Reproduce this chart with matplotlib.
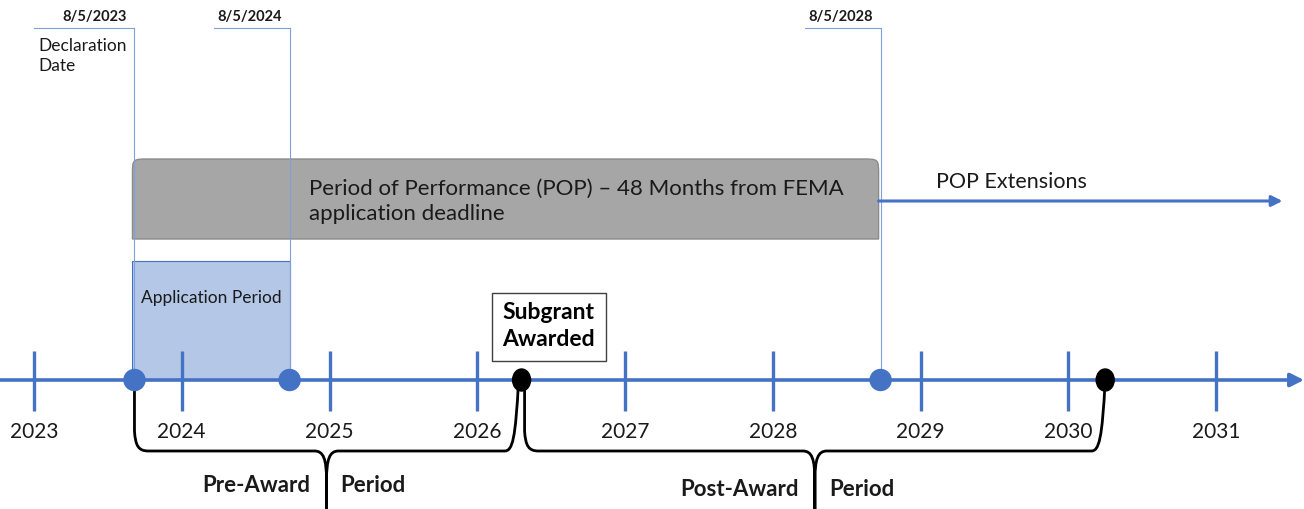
import matplotlib
matplotlib.use("Agg")
import matplotlib.pyplot as plt
from matplotlib.patches import Rectangle, Ellipse, PathPatch
from matplotlib.path import Path

plt.rcParams['font.family'] = ['Lato', 'DejaVu Sans']

# ---------------- data ----------------
years = [2023, 2024, 2025, 2026, 2027, 2028, 2029, 2030, 2031]
year_labels = [str(y) for y in years]
key_dates = [2023.68, 2024.73, 2028.73]          # declaration, app deadline, POP end
key_labels = ["8/5/2023", "8/5/2024", "8/5/2028"]
award_date = 2026.30
closeout_date = 2030.25
pop_ext_end = 2031.45
periods = ["Pre-Award", "Post-Award"]

# ---------------- layout ----------------
W, H = 1304, 510
PX = 147.75                       # pixels per year
X0 = 34                           # pixel of 2023
xmin = years[0] - X0 / PX
xmax = years[0] + (W - X0) / PX

def dx(p):                        # pixel offset -> year offset
    return p / PX

BLUE = '#4472C4'
LBLUE = '#7FA0DA'
TXT = '#1A1A1A'

fig = plt.figure(figsize=(W / 100, H / 100), dpi=100)
ax = fig.add_axes([0, 0, 1, 1])
ax.set_xlim(xmin, xmax)
ax.set_ylim(H, 0)
ax.axis('off')

TL_Y = 381

# Gray POP box (rounded top corners)
gx0, gx1 = key_dates[0] - dx(2), key_dates[2] - dx(2)
gy0, gy1 = 160, 240
r = 16
verts = [(gx0, gy1), (gx0, gy0 + r), (gx0, gy0), (gx0, gy0), (gx0 + dx(r), gy0),
         (gx1 - dx(r), gy0), (gx1, gy0), (gx1, gy0), (gx1, gy0 + r), (gx1, gy1), (gx0, gy1)]
codes = [Path.MOVETO, Path.LINETO, Path.CURVE4, Path.CURVE4, Path.CURVE4,
         Path.LINETO, Path.CURVE4, Path.CURVE4, Path.CURVE4, Path.LINETO, Path.CLOSEPOLY]
ax.add_patch(PathPatch(Path(verts, codes), facecolor='#A6A6A6', edgecolor='#8C8C8C', lw=1.0, zorder=2))
ax.text(gx0 + dx(177), 201, "Period of Performance (POP) – 48 Months from FEMA\napplication deadline",
        fontsize=16, color=TXT, ha='left', va='center', linespacing=1.33, zorder=5)

# Application period rect
ax.add_patch(Rectangle((key_dates[0] - dx(2), 262), key_dates[1] - key_dates[0] + dx(2), TL_Y - 262,
                       facecolor='#B4C7E7', edgecolor=BLUE, lw=0.8, zorder=2))
ax.text((key_dates[0] + key_dates[1]) / 2 - dx(1), 298, "Application Period", fontsize=12.5,
        color=TXT, ha='center', va='center', zorder=5)

# Callout lines
for kd, lab in zip(key_dates, key_labels):
    ax.plot([kd, kd], [29, TL_Y], color=LBLUE, lw=0.8, zorder=3)
    ax.plot([kd - dx(76 if lab != "8/5/2023" else 100), kd], [29, 29], color=LBLUE, lw=0.8, zorder=3)
    ax.text(kd - dx(8), 17, lab, fontsize=10.5, fontweight='bold', color=TXT,
            ha='right', va='center', zorder=5)
ax.text(years[0] + dx(4), 56, "Declaration\nDate", fontsize=12.5, color=TXT,
        ha='left', va='center', linespacing=1.35, zorder=5)

# POP extensions arrow
ax.annotate("", xy=(pop_ext_end, 202), xytext=(key_dates[2] - dx(2), 202),
            arrowprops=dict(arrowstyle='-|>', color=BLUE, lw=2.2, mutation_scale=16,
                            shrinkA=0, shrinkB=0), zorder=4)
ax.text(key_dates[2] + dx(55), 182, "POP Extensions", fontsize=15.5, color=TXT,
        ha='left', va='center', zorder=5)

# Timeline
ax.annotate("", xy=(xmax, TL_Y), xytext=(xmin, TL_Y),
            arrowprops=dict(arrowstyle='-|>', color=BLUE, lw=2.6, mutation_scale=20,
                            shrinkA=0, shrinkB=0), zorder=4)
for y, lab in zip(years, year_labels):
    ax.plot([y, y], [352, 412], color=BLUE, lw=2.4, zorder=4, solid_capstyle='butt')
    ax.text(y, 432, lab, fontsize=15, color=TXT, ha='center', va='center', zorder=5)

# Braces
def brace(x0, x1, ytop=TL_Y, ymid=452, ytip=515):
    xm = (x0 + x1) / 2
    v = [(x0, ytop), (x0, 432), (x0 + dx(1), 447), (x0 + dx(4), 452), (x0 + dx(14), 452),
         (xm - dx(12), 452), (xm - dx(3), 452), (xm, 460), (xm, 482), (xm, ytip),
         (xm, 482), (xm, 460), (xm + dx(3), 452), (xm + dx(12), 452),
         (x1 - dx(14), 452), (x1 - dx(6), 452), (x1 - dx(3), 440), (x1, ytop)]
    c = [Path.MOVETO, Path.LINETO, Path.CURVE4, Path.CURVE4, Path.CURVE4,
         Path.LINETO, Path.CURVE4, Path.CURVE4, Path.CURVE4, Path.LINETO,
         Path.LINETO, Path.CURVE4, Path.CURVE4, Path.CURVE4,
         Path.LINETO, Path.CURVE4, Path.CURVE4, Path.CURVE4]
    ax.add_patch(PathPatch(Path(v, c), facecolor='none', edgecolor='black', lw=2.0,
                           zorder=3, capstyle='round', joinstyle='round'))
    return xm

spans = [(key_dates[0], award_date - dx(3)), (award_date + dx(3), closeout_date)]
for (a, b), name in zip(spans, periods):
    xm = brace(a, b)
    yt = 486 if name == "Pre-Award" else 490
    ax.text(xm - dx(16), yt, name, fontsize=16, fontweight='bold', color=TXT,
            ha='right', va='center', zorder=5)
    ax.text(xm + dx(14), yt, "Period", fontsize=16, fontweight='bold', color=TXT,
            ha='left', va='center', zorder=5)

# Date markers
for kd in key_dates:
    ax.add_patch(Ellipse((kd, TL_Y), dx(21), 21, facecolor=BLUE, edgecolor=BLUE, zorder=6))
for d in [award_date, closeout_date]:
    ax.add_patch(Ellipse((d, TL_Y), dx(18), 22, facecolor='black', edgecolor='black', zorder=6))

# Subgrant awarded box
ax.add_patch(Rectangle((award_date - dx(30), 294), dx(114), 68, facecolor='white',
                       edgecolor='#404040', lw=1.0, zorder=5))
ax.text(award_date + dx(27), 326, "Subgrant\nAwarded", fontsize=16.5, fontweight='bold',
        color='black', ha='center', va='center', linespacing=1.38, zorder=6)

fig.savefig("out.png", dpi=100)
